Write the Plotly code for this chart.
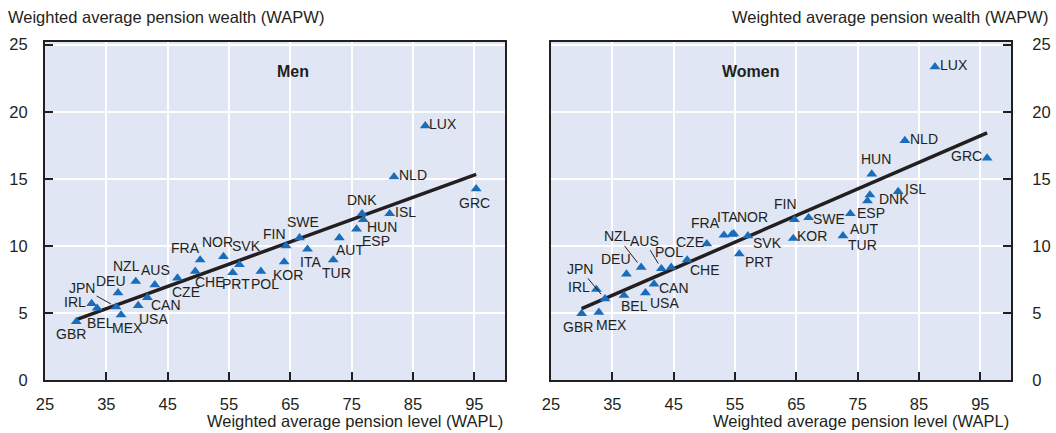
import numpy as np
import plotly.graph_objects as go

# data (WAPL on x, WAPW on y)
countries_men = ['GBR', 'IRL', 'BEL', 'JPN', 'DEU', 'MEX', 'NZL', 'USA', 'CAN', 'AUS',
                 'CZE', 'CHE', 'FRA', 'NOR', 'PRT', 'SVK', 'POL', 'KOR', 'FIN', 'SWE',
                 'ITA', 'TUR', 'AUT', 'ESP', 'DNK', 'HUN', 'ISL', 'NLD', 'LUX', 'GRC']
wapl_men = [30.1, 32.6, 33.5, 36.6, 36.9, 37.4, 39.8, 40.2, 41.7, 42.9,
            46.6, 49.5, 50.3, 54.1, 55.6, 56.7, 60.2, 64.0, 64.3, 66.5,
            67.8, 72.0, 73.0, 75.8, 76.7, 76.9, 81.2, 81.9, 87.0, 95.3]
wapw_men = [4.35, 5.7, 5.35, 5.45, 6.5, 4.85, 7.35, 5.55, 6.15, 7.1,
            7.6, 8.1, 8.95, 9.2, 8.0, 8.6, 8.1, 8.8, 10.0, 10.6,
            9.75, 8.95, 10.6, 11.25, 12.4, 11.95, 12.4, 15.15, 18.95, 14.25]

countries_women = ['GBR', 'IRL', 'MEX', 'JPN', 'BEL', 'DEU', 'NZL', 'USA', 'CAN', 'AUS',
                   'POL', 'CHE', 'CZE', 'FRA', 'ITA', 'NOR', 'PRT', 'SVK', 'KOR', 'FIN',
                   'SWE', 'TUR', 'AUT', 'ESP', 'DNK', 'HUN', 'ISL', 'NLD', 'LUX', 'GRC']
wapl_women = [30.0, 32.4, 32.8, 33.8, 36.9, 37.3, 39.7, 40.4, 41.8, 43.0,
              44.6, 47.2, 50.4, 53.2, 54.5, 54.8, 55.7, 57.1, 64.5, 64.7,
              67.0, 72.6, 73.8, 76.6, 77.0, 77.3, 81.6, 82.7, 87.6, 96.1]
wapw_women = [4.95, 6.75, 5.05, 6.05, 6.3, 7.9, 8.4, 6.5, 7.15, 8.3,
              8.4, 8.95, 10.15, 10.8, 10.85, 10.9, 9.4, 10.75, 10.55, 11.95,
              12.1, 10.75, 12.4, 13.35, 13.8, 15.35, 14.05, 17.85, 23.35, 16.55]

x_ticks = [25, 35, 45, 55, 65, 75, 85, 95]
y_ticks = [0, 5, 10, 15, 20, 25]

# label placement (px from marker: dx right, dy down); leader-line labels separate
lab_men = {'GBR': (-5, 14), 'IRL': (-17, 0), 'BEL': (3, 17), 'DEU': (-7, -10), 'MEX': (6, 15),
           'NZL': (-9, -13), 'USA': (15, 15), 'CAN': (19, 9), 'AUS': (1, -13), 'CZE': (9, 16),
           'CHE': (15, 13), 'FRA': (-15, -10), 'NOR': (-6, -13), 'PRT': (3, 13), 'SVK': (7, -17),
           'POL': (4, 15), 'KOR': (4, 15), 'FIN': (-12, -10), 'SWE': (3, -14), 'ITA': (3, 15),
           'TUR': (3, 15), 'AUT': (11, 14), 'ESP': (19, 14), 'DNK': (0, -12), 'HUN': (19, 9),
           'ISL': (16, 0), 'NLD': (19, 0), 'LUX': (18, 0), 'GRC': (-2, 16)}
arr_men = {'JPN': (-34, -17)}
lab_women = {'GBR': (-4, 15), 'IRL': (-17, 0), 'MEX': (13, 15), 'BEL': (11, 13), 'DEU': (-10, -13),
             'USA': (19, 12), 'CAN': (20, 6), 'POL': (-2, -13), 'CHE': (18, 12), 'CZE': (-17, 0),
             'FRA': (-18, -10), 'ITA': (-4, -15), 'NOR': (19, -15), 'PRT': (20, 10), 'SVK': (20, 9),
             'KOR': (19, 0), 'FIN': (-9, -14), 'SWE': (20, 3), 'TUR': (20, 11), 'AUT': (14, 17),
             'ESP': (4, 14), 'DNK': (24, 6), 'HUN': (4, -13), 'ISL': (17, -1), 'NLD': (19, 0),
             'LUX': (19, 0), 'GRC': (-21, 0)}
arr_women = {'JPN': (-25, -28), 'NZL': (-24, -29), 'AUS': (-17, -26)}

FONT = 'Liberation Sans, Arial, sans-serif'
INK = '#231f20'
BLUE = '#1a6dba'
BG = '#e0e6f3'
W, H = 1056, 433

fig = go.Figure()
annotations = []

panels = [
    ('x', 'y', countries_men, wapl_men, wapw_men, lab_men, arr_men),
    ('x2', 'y2', countries_women, wapl_women, wapw_women, lab_women, arr_women),
]
for xa, ya, names, xs, ys, labs, arrs in panels:
    # fitted trend line
    k, b = np.polyfit(xs, ys, 1)
    lx = np.array([min(xs), max(xs)])
    fig.add_trace(go.Scatter(x=lx, y=k * lx + b, mode='lines', xaxis=xa, yaxis=ya,
                             line=dict(color=INK, width=3.5), hoverinfo='skip'))
    fig.add_trace(go.Scatter(x=xs, y=ys, mode='markers', xaxis=xa, yaxis=ya, text=names,
                             marker=dict(symbol='triangle-up', size=9.5, color=BLUE)))
    for name, x, y in zip(names, xs, ys):
        if name in labs:
            dx, dy = labs[name]
            annotations.append(dict(x=x, y=y, xref=xa, yref=ya, text=name, showarrow=False,
                                    xshift=dx, yshift=2 - dy,
                                    font=dict(family=FONT, size=14, color=INK)))
        else:
            dx, dy = arrs[name]
            annotations.append(dict(x=x, y=y, xref=xa, yref=ya, text=name, showarrow=True,
                                    ax=dx, ay=dy - 2, arrowhead=0, arrowwidth=1,
                                    arrowcolor=INK, standoff=6,
                                    font=dict(family=FONT, size=14, color=INK)))

annotations += [
    dict(text='Weighted average pension wealth (WAPW)', x=6 / W, y=1 - 17 / H,
         xanchor='left', yanchor='middle'),
    dict(text='Weighted average pension wealth (WAPW)', x=1050 / W, y=1 - 17 / H,
         xanchor='right', yanchor='middle'),
    dict(text='Weighted average pension level (WAPL)', x=505 / W, y=1 - 421 / H,
         xanchor='right', yanchor='middle'),
    dict(text='Weighted average pension level (WAPL)', x=1011 / W, y=1 - 421 / H,
         xanchor='right', yanchor='middle'),
]
for a in annotations[-4:]:
    a.update(xref='paper', yref='paper', showarrow=False, font=dict(family=FONT, size=16.5, color=INK))

for txt, cx in [('Men', 275), ('Women', 781)]:
    annotations.append(dict(text='<b>%s</b>' % txt, x=cx / W, y=1 - 61 / H, xref='paper', yref='paper',
                            showarrow=False, font=dict(family=FONT, size=16, color=INK)))

axis_style = dict(showline=True, linecolor=INK, linewidth=2, mirror=True,
                  ticks='inside', ticklen=8, tickwidth=1.5, tickcolor=INK,
                  showgrid=True, gridcolor='white', gridwidth=1.5, zeroline=False,
                  tickfont=dict(family=FONT, size=16.5, color=INK), fixedrange=True,
                  automargin=False)
ydom = [1 - 380 / H, 1 - 41.7 / H]

fig.update_layout(
    width=W, height=H, margin=dict(l=0, r=0, t=0, b=0, autoexpand=False),
    paper_bgcolor='white', plot_bgcolor=BG, showlegend=False,
    xaxis=dict(domain=[45 / W, 505 / W], range=[25, 100], tickvals=x_ticks, anchor='y',
               ticklabelstandoff=8, **axis_style),
    yaxis=dict(domain=ydom, range=[0, 25.22], tickvals=y_ticks, anchor='x',
               ticklabelstandoff=12, **axis_style),
    xaxis2=dict(domain=[551 / W, 1011 / W], range=[25, 100], tickvals=x_ticks, anchor='y2',
                ticklabelstandoff=8, **axis_style),
    yaxis2=dict(domain=ydom, range=[0, 25.22], tickvals=y_ticks, anchor='x2', side='right',
                ticklabelstandoff=16, **axis_style),
    annotations=annotations,
)

# drop the browser's default page margin so the figure sits at the window origin
fig.write_html("out.html", config={'displayModeBar': False},
               post_script="document.body.style.margin='0';")
